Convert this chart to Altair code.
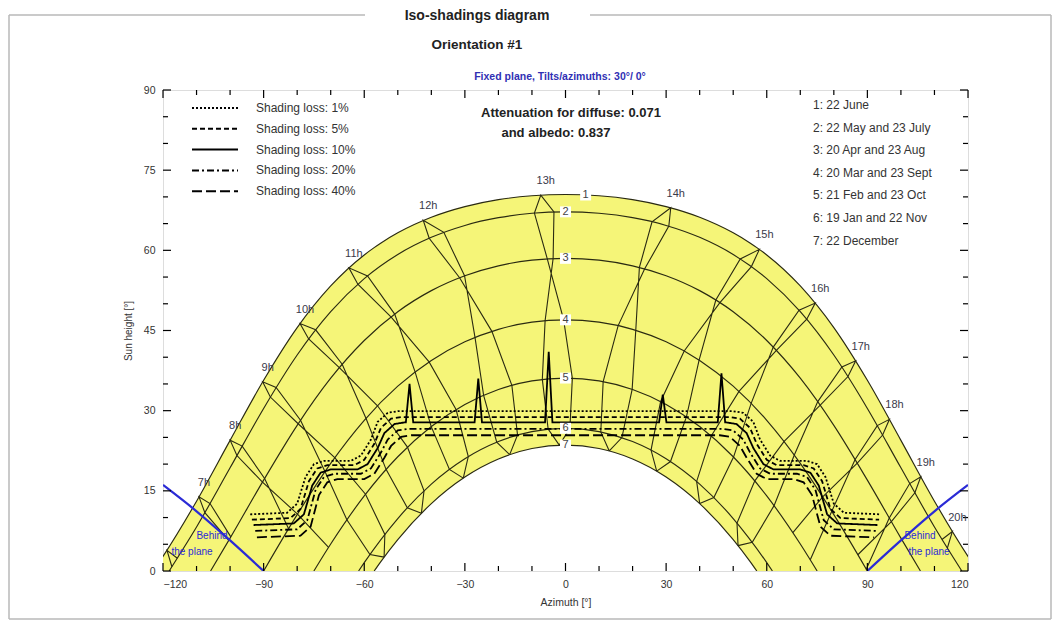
import altair as alt
import pandas as pd

# ---------------- sun-path date curves: azimuth [deg] / sun height [deg] ----------------
C1_AZ = [-122.95, -120, -110, -100, -90, -80, -70, -60, -57.05, -55, -50, -40, -30, -20, -10, 0,
         10, 20, 30, 40, 50, 55, 57.05, 60, 70, 80, 90, 100, 110, 120, 122.95]
C1_EL = [0, 2.74, 13.06, 24.44, 35.68, 45.54, 53.34, 59.14, 60.51, 61.39, 63.28, 66.19, 68.18, 69.48, 70.21, 70.44,
         70.21, 69.48, 68.18, 66.19, 63.28, 61.39, 60.51, 59.14, 53.34, 45.54, 35.68, 24.44, 13.06, 2.74, 0]
AREA_LOW = [0, 0, 0, 0, 0, 0, 0, 0, 0, 1.81, 5.88, 12.61, 17.58, 20.96, 22.91, 23.56,
            22.91, 20.96, 17.58, 12.61, 5.88, 1.81, 0, 0, 0, 0, 0, 0, 0, 0, 0]
C2_AZ = [-118.17, -110, -100, -90, -80, -70, -60, -50, -40, -30, -20, -10, 0,
         10, 20, 30, 40, 50, 60, 70, 80, 90, 100, 110, 118.17]
C2_EL = [0, 8.24, 19.31, 30.42, 40.41, 48.52, 54.70, 59.22, 62.43, 64.66, 66.11, 66.93, 67.2,
         66.93, 66.11, 64.66, 62.43, 59.22, 54.70, 48.52, 40.41, 30.42, 19.31, 8.24, 0]
C3_AZ = [-105.82, -100, -90, -80, -70, -60, -50, -40, -30, -20, -10, 0,
         10, 20, 30, 40, 50, 60, 70, 80, 90, 100, 105.82]
C3_EL = [0, 6.15, 17.00, 27.25, 36.07, 43.13, 48.51, 52.46, 55.25, 57.10, 58.16, 58.5,
         58.16, 57.10, 55.25, 52.46, 48.51, 43.13, 36.07, 27.25, 17.00, 6.15, 0]
C4_AZ = [-90, -80, -70, -60, -50, -40, -30, -20, -10, 0, 10, 20, 30, 40, 50, 60, 70, 80, 90]
C4_EL = [0, 10.55, 20.14, 28.20, 34.58, 39.40, 42.88, 45.22, 46.56, 47.0,
         46.56, 45.22, 42.88, 39.40, 34.58, 28.20, 20.14, 10.55, 0]
C5_AZ = [-75.02, -70, -60, -50, -40, -30, -20, -10, 0, 10, 20, 30, 40, 50, 60, 70, 75.02]
C5_EL = [0, 5.05, 14.05, 21.38, 27.03, 31.16, 33.96, 35.57, 36.1, 35.57, 33.96, 31.16, 27.03, 21.38, 14.05, 5.05, 0]
C6_AZ = [-61.69, -60, -50, -40, -30, -20, -10, 0, 10, 20, 30, 40, 50, 60, 61.69]
C6_EL = [0, 1.57, 9.82, 16.26, 21.00, 24.22, 26.09, 26.7, 26.09, 24.22, 21.00, 16.26, 9.82, 1.57, 0]
C7_AZ = [-57.05, -55, -50, -40, -30, -20, -10, 0, 10, 20, 30, 40, 50, 55, 57.05]
C7_EL = [0, 1.81, 5.88, 12.61, 17.58, 20.96, 22.91, 23.56, 22.91, 20.96, 17.58, 12.61, 5.88, 1.81, 0]

CURVE_LABELS = ["1", "2", "3", "4", "5", "6", "7"]
CURVE_LABEL_AZ = [6, 0, 0, 0, 0, 0, 0]
CURVE_LABEL_EL = [70.35, 67.2, 58.5, 47.0, 36.1, 26.7, 23.56]

# ---------------- hour lines (legal time 6h..20h), sun position per date ----------------
HOURS = [6, 7, 8, 9, 10, 11, 12, 13, 14, 15, 16, 17, 18, 19, 20]
N = None
DEC22_AZ = [N, N, N, -54.08, -42.96, -30.48, -16.64, -1.85, 13.05, 27.19, 40.02, 51.44, N, N, N]
DEC22_EL = [N, N, N, 2.60, 10.82, 17.38, 21.78, 23.55, 22.47, 18.69, 12.61, 4.75, N, N, N]
JAN19_AZ = [N, N, N, -58.30, -47.16, -34.60, -20.50, -5.17, 10.52, 25.50, 39.10, 51.13, N, N, N]
JAN19_EL = [N, N, N, 3.10, 11.83, 19.01, 24.10, 26.55, 26.03, 22.63, 16.76, 8.98, N, N, N]
FEB21_AZ = [N, N, N, -65.18, -53.50, -40.03, -24.41, -6.91, 11.23, 28.36, 43.45, 56.44, 67.79, N, N]
FEB21_EL = [N, N, N, 9.58, 19.02, 27.02, 32.87, 35.85, 35.44, 31.71, 25.26, 16.86, 7.18, N, N]
MAR20_AZ = [N, N, -82.55, -71.71, -59.49, -44.84, -26.98, -6.08, 15.70, 35.39, 51.72, 65.18, 76.68, 87.16, N]
MAR20_EL = [N, N, 7.91, 18.60, 28.57, 37.25, 43.71, 46.85, 45.91, 41.17, 33.61, 24.24, 13.88, 3.04, N]
APR20_AZ = [N, -99.78, -89.71, -79.0, -66.58, -50.93, -30.10, -3.69, 23.61, 46.03, 62.87, 75.95, 86.99, 97.15, N]
APR20_EL = [N, 6.39, 17.31, 28.22, 38.69, 48.07, 55.24, 58.46, 56.54, 50.23, 41.29, 31.02, 20.19, 9.25, N]
MAY22_AZ = [-115.72, -105.97, -96.40, -86.28, -74.49, -59.02, -36.28, -3.44, 30.81, 55.42, 71.93, 84.22, 94.55, 104.16, 113.83]
MAY22_EL = [2.38, 12.62, 23.37, 34.33, 45.13, 55.21, 63.37, 67.18, 64.53, 56.96, 47.11, 36.39, 25.44, 14.63, 4.26]
JUN22_AZ = [-118.8, -109.27, -99.98, -90.29, -79.15, -64.58, -42.43, -7.37, 31.38, 57.80, 74.45, 86.52, 96.58, 105.92, 115.33]
JUN22_EL = [3.86, 13.87, 24.47, 35.39, 46.30, 56.72, 65.62, 70.34, 67.97, 60.18, 50.14, 39.33, 28.38, 17.63, 7.38]
JUL23_AZ = [-117.35, -107.52, -97.96, -88.0, -76.57, -61.91, -40.64, -9.27, 25.80, 52.10, 69.63, 82.41, 92.95, 102.62, 112.24]
JUL23_EL = [0.79, 10.92, 21.61, 32.55, 43.42, 53.66, 62.26, 66.97, 65.34, 58.38, 48.78, 38.16, 27.21, 16.36, 5.89]
AUG23_AZ = [N, -100.40, -90.34, -79.70, -67.43, -52.04, -31.57, -5.43, 22.03, 44.82, 61.94, 75.21, 86.34, 96.53, N]
AUG23_EL = [N, 5.72, 16.63, 27.55, 38.06, 47.53, 54.88, 58.41, 56.80, 50.71, 41.90, 31.69, 20.87, 9.92, N]
SEP23_AZ = [N, N, -79.90, -68.80, -56.05, -40.67, -21.95, -0.55, 20.95, 39.83, 55.35, 68.22, 79.39, 89.63, N]
SEP23_EL = [N, N, 10.65, 21.20, 30.92, 39.13, 44.84, 47.0, 45.05, 39.47, 31.37, 21.70, 11.18, 0.27, N]
OCT23_AZ = [N, N, -70.64, -59.62, -47.12, -32.63, -15.99, 2.04, 19.87, 36.05, 50.10, 62.18, 72.98, N, N]
OCT23_EL = [N, N, 4.42, 14.36, 23.18, 30.21, 34.74, 36.08, 33.98, 28.83, 21.32, 12.23, 2.09, N, N]
NOV22_AZ = [N, N, N, -53.86, -42.18, -28.98, -14.30, 1.31, 16.82, 31.30, 44.23, 55.68, N, N, N]
NOV22_EL = [N, N, N, 6.85, 15.01, 21.40, 25.45, 26.70, 24.96, 20.48, 13.76, 5.36, N, N, N]
HOUR_LABELS = ["7h", "8h", "9h", "10h", "11h", "12h", "13h", "14h", "15h", "16h", "17h", "18h", "19h", "20h"]

# ---------------- iso-shading lines ----------------
LOSS_LABELS = ["Shading loss: 1%", "Shading loss: 5%", "Shading loss: 10%", "Shading loss: 20%", "Shading loss: 40%"]
S1_AZ = [-94, -83, -80, -77.5, -75, -72, -64, -61, -58, -56, -53, -50, 50, 53, 56, 58, 61, 64, 72, 75, 77.5, 80, 83, 94]
S1_EL = [10.6, 10.9, 12.6, 17.6, 20.0, 20.6, 20.6, 21.6, 24.6, 27.9, 29.6, 29.9,
         29.9, 29.6, 27.9, 24.6, 21.6, 20.6, 20.6, 20.0, 17.6, 12.6, 10.9, 10.6]
S5_AZ = [-93.5, -82, -79, -76.5, -74, -71, -63, -60, -57, -55, -52, -49, 49, 52, 55, 57, 60, 63, 71, 74, 76.5, 79, 82, 93.5]
S5_EL = [9.6, 9.9, 11.6, 16.8, 19.2, 19.8, 19.8, 20.8, 23.8, 26.8, 28.5, 28.8,
         28.8, 28.5, 26.8, 23.8, 20.8, 19.8, 19.8, 19.2, 16.8, 11.6, 9.9, 9.6]
S10_AZ = [-93, -81, -78, -75.5, -73, -70, -62, -59, -56, -54, -51, -48,
          -47.6, -46.5, -45.4, -27.1, -26, -24.9, -6.1, -5, -3.9, 27.9, 29, 30.1, 45.4, 46.5, 47.6,
          48, 51, 54, 56, 59, 62, 70, 73, 75.5, 78, 81, 93]
S10_EL = [8.6, 8.9, 10.6, 16.0, 18.4, 19.0, 19.0, 20.0, 23.0, 25.8, 27.5, 27.8,
          27.8, 35.0, 27.8, 27.8, 36.0, 27.8, 27.8, 41.0, 27.8, 27.8, 33.0, 27.8, 27.8, 37.0, 27.8,
          27.8, 27.5, 25.8, 23.0, 20.0, 19.0, 19.0, 18.4, 16.0, 10.6, 8.9, 8.6]
S20_AZ = [-92.5, -80, -77, -74.5, -72, -69, -61, -58, -55, -53, -50, -47, 47, 50, 53, 55, 58, 61, 69, 72, 74.5, 77, 80, 92.5]
S20_EL = [7.5, 7.8, 9.5, 15.2, 17.6, 18.2, 18.2, 19.2, 22.2, 24.6, 26.3, 26.6,
          26.6, 26.3, 24.6, 22.2, 19.2, 18.2, 18.2, 17.6, 15.2, 9.5, 7.8, 7.5]
S40_AZ = [-92, -79, -76, -73.5, -71, -68, -60, -57, -54, -52, -49, -46, 46, 49, 52, 54, 57, 60, 68, 71, 73.5, 76, 79, 92]
S40_EL = [6.3, 6.6, 8.3, 14.2, 16.6, 17.2, 17.2, 18.2, 21.2, 23.4, 25.1, 25.4,
          25.4, 25.1, 23.4, 21.2, 18.2, 17.2, 17.2, 16.6, 14.2, 8.3, 6.6, 6.3]
DASHES = [[2, 2], [5, 3], [1, 0], [7, 3, 2, 3], [10, 4]]

# ---------------- behind-the-plane limits ----------------
BEHIND_L_AZ = [-120, -110, -100, -90]
BEHIND_L_EL = [16.1, 11.17, 5.72, 0]
BEHIND_R_AZ = [90, 100, 110, 120]
BEHIND_R_EL = [0, 5.72, 11.17, 16.1]

DATE_LEGEND = ["1: 22 June", "2: 22 May and 23 July", "3: 20 Apr and 23 Aug", "4: 20 Mar and 23 Sept",
               "5: 21 Feb and 23 Oct", "6: 19 Jan and 22 Nov", "7: 22 December"]

X_MAJOR = [-120, -90, -60, -30, 0, 30, 60, 90, 120]
X_MINOR = [-110, -100, -80, -70, -50, -40, -20, -10, 10, 20, 40, 50, 70, 80, 100, 110]
Y_MAJOR = [0, 15, 30, 45, 60, 75, 90]
Y_MINOR = [5, 10, 20, 25, 35, 40, 50, 55, 65, 70, 80, 85]

# ---------------- tables ----------------
area_df = pd.DataFrame({"az": C1_AZ, "upper": C1_EL, "lower": AREA_LOW})

rows = []
for cid, (azs, els) in enumerate([(C1_AZ, C1_EL), (C2_AZ, C2_EL), (C3_AZ, C3_EL), (C4_AZ, C4_EL),
                                  (C5_AZ, C5_EL), (C6_AZ, C6_EL), (C7_AZ, C7_EL)], start=1):
    for i, (a, e) in enumerate(zip(azs, els)):
        rows.append({"curve": cid, "i": i, "az": a, "el": e})
curves_df = pd.DataFrame(rows)

DATES_IN_ORDER = [(DEC22_AZ, DEC22_EL), (JAN19_AZ, JAN19_EL), (FEB21_AZ, FEB21_EL), (MAR20_AZ, MAR20_EL),
                  (APR20_AZ, APR20_EL), (MAY22_AZ, MAY22_EL), (JUN22_AZ, JUN22_EL), (JUL23_AZ, JUL23_EL),
                  (AUG23_AZ, AUG23_EL), (SEP23_AZ, SEP23_EL), (OCT23_AZ, OCT23_EL), (NOV22_AZ, NOV22_EL),
                  (DEC22_AZ, DEC22_EL)]
rows = []
for hi, h in enumerate(HOURS):
    for di, (azs, els) in enumerate(DATES_IN_ORDER):
        if azs[hi] is not None:
            rows.append({"hour": h, "i": di, "az": azs[hi], "el": els[hi]})
hours_df = pd.DataFrame(rows)

hour_lab_df = pd.DataFrame({"label": HOUR_LABELS, "az": JUN22_AZ[1:], "el": JUN22_EL[1:]})
curve_lab_df = pd.DataFrame({"label": CURVE_LABELS, "az": CURVE_LABEL_AZ, "el": CURVE_LABEL_EL})

rows = []
for lab, azs, els in zip(LOSS_LABELS, [S1_AZ, S5_AZ, S10_AZ, S20_AZ, S40_AZ], [S1_EL, S5_EL, S10_EL, S20_EL, S40_EL]):
    for i, (a, e) in enumerate(zip(azs, els)):
        rows.append({"loss": lab, "i": i, "az": a, "el": e})
shade_df = pd.DataFrame(rows)

rows = []
for side, azs, els in [("L", BEHIND_L_AZ, BEHIND_L_EL), ("R", BEHIND_R_AZ, BEHIND_R_EL)]:
    for i, (a, e) in enumerate(zip(azs, els)):
        rows.append({"side": side, "i": i, "az": a, "el": e})
behind_df = pd.DataFrame(rows)

one = pd.DataFrame({"k": [0]})

# ---------------- chart ----------------
W, H = 805, 481
XS = alt.Scale(domain=[-120, 120], nice=False, zero=False)
YS = alt.Scale(domain=[0, 90], nice=False, zero=False)
YELLOW = "#f5f578"
LINE = "#2a2a12"
BLUE = "#2b2bd6"
TXT = "#333333"

x_axis = alt.Axis(values=X_MAJOR, ticks=False, domain=False, grid=False, labelFontSize=10.5,
                  labelColor=TXT, labelPadding=8, title="Azimuth [°]", titleFontSize=10.5,
                  titleFontWeight="normal", titleColor=TXT, titlePadding=8)
y_axis = alt.Axis(values=Y_MAJOR, ticks=False, domain=False, grid=False, labelFontSize=10.5,
                  labelColor=TXT, labelPadding=8, title="Sun height [°]", titleFontSize=10,
                  titleFontWeight="normal", titleColor=TXT, titlePadding=10)


def X(field="az"):
    return alt.X(f"{field}:Q", scale=XS, axis=x_axis)


def Y(field="el"):
    return alt.Y(f"{field}:Q", scale=YS, axis=y_axis)


area = alt.Chart(area_df).mark_area(color=YELLOW, interpolate="monotone", clip=True).encode(
    x=X(), y=Y("upper"), y2="lower:Q")

curves = alt.Chart(curves_df).mark_line(color=LINE, strokeWidth=1.15, interpolate="monotone", clip=True).encode(
    x=X(), y=Y(), detail="curve:N", order="i:Q")

hours = alt.Chart(hours_df).mark_line(color=LINE, strokeWidth=1.1, clip=True).encode(
    x=X(), y=Y(), detail="hour:N", order="i:Q")

shading = alt.Chart(shade_df).mark_line(color="black", strokeWidth=1.8, clip=True).encode(
    x=X(), y=Y(), order="i:Q",
    strokeDash=alt.StrokeDash("loss:N", scale=alt.Scale(domain=LOSS_LABELS, range=DASHES), legend=None),
)

behind = alt.Chart(behind_df).mark_line(color=BLUE, strokeWidth=2.2, interpolate="monotone", clip=True).encode(
    x=X(), y=Y(), detail="side:N", order="i:Q")

hour_labels = alt.Chart(hour_lab_df).mark_text(fontSize=11, color="#3a3a4a", dx=5, dy=-14).encode(
    x=X(), y=Y(), text="label:N")

curve_bg = alt.Chart(curve_lab_df).mark_point(shape="square", filled=True, color="white", opacity=1, size=120).encode(
    x=X(), y=Y())
curve_txt = alt.Chart(curve_lab_df).mark_text(fontSize=11, color="#444444").encode(
    x=X(), y=Y(), text="label:N")


def tick_layer(vals, axis, length, side):
    df = pd.DataFrame({"v": vals})
    base = alt.Chart(df).mark_rule(color="black", strokeWidth=1.2)
    if axis == "x":
        y0 = H if side == "bottom" else 0
        y1 = H - length if side == "bottom" else length
        return base.encode(x=X("v"), y=alt.value(y0), y2=alt.value(y1))
    x0 = 0 if side == "left" else W
    x1 = length if side == "left" else W - length
    return base.encode(y=Y("v"), x=alt.value(x0), x2=alt.value(x1))


ticks = [tick_layer(X_MAJOR, "x", 8, "bottom"), tick_layer(X_MINOR, "x", 5, "bottom"),
         tick_layer(X_MAJOR, "x", 8, "top"), tick_layer(X_MINOR, "x", 5, "top"),
         tick_layer(Y_MAJOR, "y", 8, "left"), tick_layer(Y_MINOR, "y", 5, "left"),
         tick_layer(Y_MAJOR, "y", 8, "right"), tick_layer(Y_MINOR, "y", 5, "right")]


def ptext(txt, x, y, size, color=TXT, weight="normal", align="center", **kw):
    return alt.Chart(one).mark_text(text=txt, fontSize=size, fontWeight=weight, color=color,
                                    align=align, baseline="middle", **kw).encode(
        x=alt.value(x), y=alt.value(y))


texts = [
    ptext("Iso-shadings diagram", 314, -74, 14, color="#222222", weight="bold"),
    ptext("Orientation #1", 314, -45, 13.5, color="#222222", weight="bold"),
    ptext("Fixed plane, Tilts/azimuths: 30°/ 0°", 397, -13, 10.5, color="#3030b4", weight="bold"),
    ptext("Attenuation for diffuse: 0.071", 408, 23, 13, color="#222222", weight="bold"),
    ptext("and albedo: 0.837", 393, 43, 13, color="#222222", weight="bold"),
    ptext("Behind", 49, 446, 10, color=BLUE),
    ptext("the plane", 29, 462, 10, color=BLUE),
    ptext("Behind", 757, 446, 10, color=BLUE),
    ptext("the plane", 766, 462, 10, color=BLUE),
]
date_legend = alt.Chart(one).mark_text(text=DATE_LEGEND, fontSize=12, color=TXT, align="left",
                                       baseline="top", lineHeight=22.6).encode(
    x=alt.value(650), y=alt.value(10))

# shading-loss key (top-left, inside the frame)
LEG_Y0, LEG_DY = 18, 20.8
shade_key = [
    alt.Chart(one).mark_rule(color="black", strokeWidth=2, strokeDash=d).encode(
        x=alt.value(29), x2=alt.value(75), y=alt.value(LEG_Y0 + k * LEG_DY))
    for k, d in enumerate(DASHES)
]
shade_key_txt = alt.Chart(one).mark_text(text=LOSS_LABELS, fontSize=12, color=TXT, align="left",
                                         baseline="middle", lineHeight=LEG_DY).encode(
    x=alt.value(93), y=alt.value(LEG_Y0))


def frule(x1, x2, y1, y2):
    return alt.Chart(one).mark_rule(color="#b8b8b8", strokeWidth=1.5).encode(
        x=alt.value(x1), x2=alt.value(x2), y=alt.value(y1), y2=alt.value(y2))


frame = [frule(-154, 202, -75, -75), frule(427, 888, -75, -75),
         frule(-154, -154, -75, 529), frule(888, 888, -75, 529), frule(-154, 888, 529, 529)]

chart = alt.layer(area, curves, hours, shading, behind, *ticks, curve_bg, curve_txt, hour_labels,
                  date_legend, *shade_key, shade_key_txt, *texts, *frame).properties(
    width=W, height=H,
    autosize=alt.AutoSizeParams(type="none"),
    padding={"left": 155, "top": 82, "right": 85, "bottom": 49},
    background="white",
).configure_view(stroke="black", strokeWidth=2).configure(font="Liberation Sans")

chart.save("out.html", embed_options={"renderer": "svg", "actions": False})
